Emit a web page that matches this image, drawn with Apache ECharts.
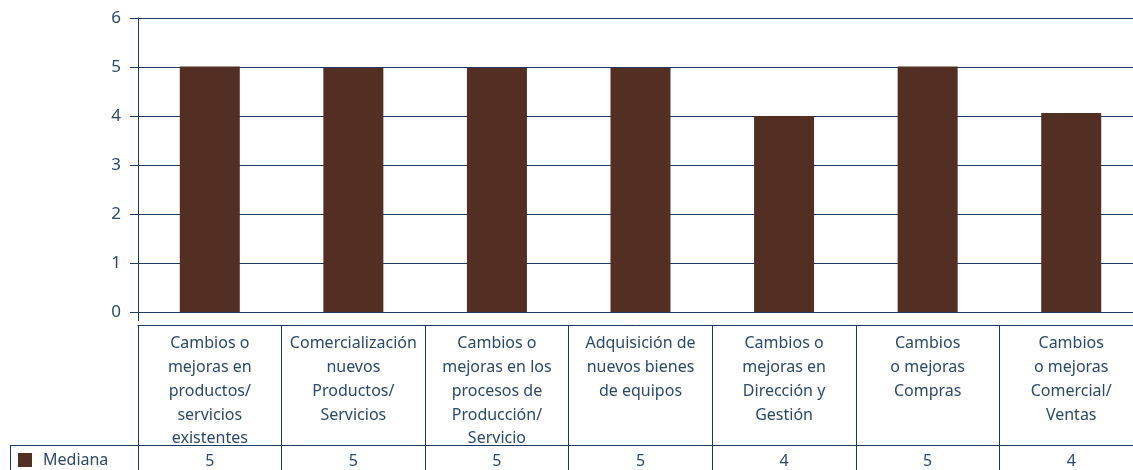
<!DOCTYPE html>
<html>
<head>
    <meta charset="utf-8">
    <title>Mediana</title>
    <script src="https://cdn.jsdelivr.net/npm/echarts@6.0.0/dist/echarts.min.js"></script>
    <style>
        body, html { margin: 0; padding: 0; width: 100%; height: 100%; overflow: hidden; background: #fff; }
        #main { width: 1133px; height: 470px; }
    </style>
</head>
<body>
    <div id="main"></div>
    <script>
        // categorias (texto de la tabla)
        const categorias = [
            'Cambios o\nmejoras en\nproductos/\nservicios\nexistentes',
            'Comercialización\nnuevos\nProductos/\nServicios',
            'Cambios o\nmejoras en los\nprocesos de\nProducción/\nServicio',
            'Adquisición de\nnuevos bienes\nde equipos',
            'Cambios o\nmejoras en\nDirección y\nGestión',
            'Cambios\no mejoras\nCompras',
            'Cambios\no mejoras\nComercial/\nVentas'
        ];
        // altura de las barras
        const mediana = [5.01, 4.98, 4.98, 4.98, 4.0, 5.01, 4.06];
        // valores escritos en la fila de la tabla
        const medianaTabla = ['5', '5', '5', '5', '4', '5', '4'];

        const azul = '#1f3a5f';
        const texto = '#2d4a6b';
        const marron = '#532e23';
        const fuente = '"Noto Sans", sans-serif';

        const chart = echarts.init(document.getElementById('main'));

        const option = {
            animation: false,
            backgroundColor: '#fff',
            // la última columna queda cortada por el borde derecho
            grid: { left: 138, width: 1005, top: 18, bottom: 158, outerBoundsMode: 'none' },
            legend: {
                data: ['Mediana'],
                left: 13, top: 447,
                icon: 'rect',
                itemWidth: 14, itemHeight: 14, itemGap: 10,
                textStyle: { color: texto, fontSize: 16, fontFamily: fuente, padding: [0, 0, 0, 6] }
            },
            xAxis: [{
                type: 'category',
                data: categorias,
                position: 'bottom',
                axisLine: { show: true, lineStyle: { color: azul, width: 1 } },
                axisTick: { show: false },
                axisLabel: {
                    interval: 0,
                    margin: 20,
                    color: texto,
                    fontSize: 16,
                    lineHeight: 23.7,
                    fontFamily: fuente,
                    align: 'center'
                }
            }, {
                type: 'category',
                data: medianaTabla,
                position: 'bottom',
                offset: 13,
                axisLine: { show: true, lineStyle: { color: azul, width: 1 } },
                axisTick: { show: true, length: 150, lineStyle: { color: azul, width: 1 } },
                axisLabel: {
                    interval: 0,
                    margin: 128,
                    color: texto,
                    fontSize: 16,
                    fontFamily: fuente
                }
            }],
            yAxis: {
                type: 'value',
                min: 0, max: 6, interval: 1,
                axisLine: { show: true, lineStyle: { color: azul, width: 1 } },
                axisTick: { show: true, length: 8, lineStyle: { color: azul } },
                axisLabel: { color: texto, fontSize: 17, fontFamily: fuente, margin: 17 },
                splitLine: { show: true, lineStyle: { color: azul, width: 1 } }
            },
            series: [{
                name: 'Mediana',
                type: 'bar',
                xAxisIndex: 0,
                data: mediana,
                barWidth: 60,
                itemStyle: { color: marron }
            }],
            graphic: [
                // línea horizontal sobre la fila "Mediana"
                { type: 'line', shape: { x1: 10, y1: 445.5, x2: 1133, y2: 445.5 }, style: { stroke: azul, lineWidth: 1 } },
                // borde izquierdo de la celda de leyenda
                { type: 'line', shape: { x1: 10.5, y1: 445, x2: 10.5, y2: 470 }, style: { stroke: azul, lineWidth: 1 } },
                // prolongación del eje vertical bajo el cero
                { type: 'line', shape: { x1: 138.5, y1: 312, x2: 138.5, y2: 321 }, style: { stroke: azul, lineWidth: 1 } }
            ]
        };

        chart.setOption(option);
    </script>
</body>
</html>
